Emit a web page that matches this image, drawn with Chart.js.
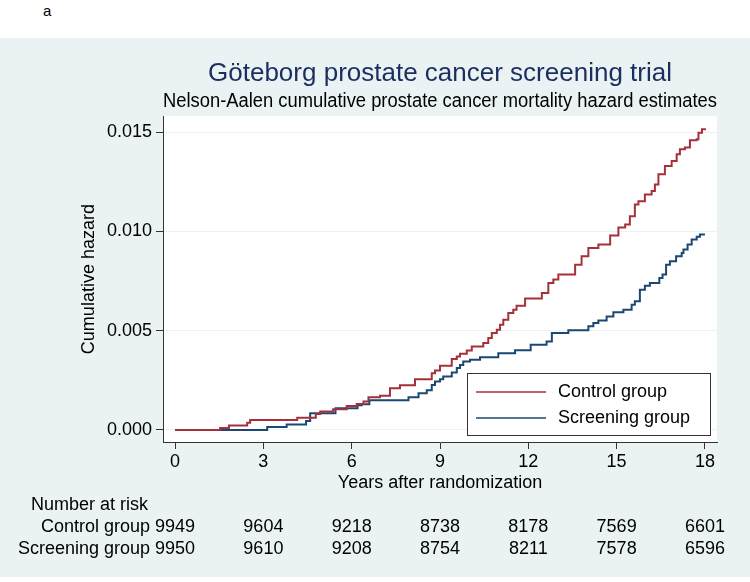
<!DOCTYPE html>
<html>
<head>
<meta charset="utf-8">
<title>Göteborg prostate cancer screening trial</title>
<script src="https://cdn.jsdelivr.net/npm/chart.js@4.4.1/dist/chart.umd.min.js"></script>
<style>
    body { margin: 0; background: #fff; }
    #wrap { position: relative; width: 750px; height: 582px; }
    #panel { position: absolute; left: 0; top: 38px; width: 750px; height: 539px; background: #eaf2f3; }
    #tag { position: absolute; left: 43px; top: 2px; font: normal 15px "Liberation Sans", Arial, sans-serif; color: #000; }
    #chart { position: absolute; left: 0; top: 0; }
</style>
</head>
<body>
<div id="wrap">
    <div id="panel"></div>
    <div id="tag">a</div>
    <canvas id="chart" width="750" height="582"></canvas>
</div>
<script>
// Nelson-Aalen estimates (step times in years, cumulative hazard after the step)
const controlTimes = [0, 1.53, 1.83, 2.45, 2.55, 4.15, 4.78, 4.93, 5.37, 5.83, 6.17, 6.4, 6.57, 6.96,
    7.3, 7.64, 8.15, 8.72, 8.83, 9.0, 9.4, 9.57, 9.68, 9.91, 10.08, 10.47, 10.64, 10.76, 10.93,
    11.04, 11.15, 11.32, 11.49, 11.6, 11.89, 12.46, 12.68, 12.85, 13.02, 13.59, 13.81, 14.04,
    14.38, 14.78, 15.06, 15.29, 15.45, 15.62, 15.74, 15.96, 16.19, 16.3, 16.42, 16.64, 16.87,
    17.04, 17.15, 17.32, 17.49, 17.72, 17.78, 17.9, 18.0];
const controlHazard = [0, 0.0001, 0.00022, 0.00037, 0.0005, 0.00062, 0.00081, 0.00093, 0.00104,
    0.00121, 0.00131, 0.00143, 0.00165, 0.00172, 0.0021, 0.00225, 0.00256, 0.00286, 0.003,
    0.00323, 0.00357, 0.0037, 0.00384, 0.004, 0.0042, 0.00438, 0.00463, 0.00488, 0.00505,
    0.0053, 0.00556, 0.0059, 0.00606, 0.00626, 0.00662, 0.0069, 0.0074, 0.00758, 0.00783,
    0.00833, 0.00875, 0.00917, 0.00934, 0.0098, 0.0102, 0.01035, 0.01077, 0.01136, 0.01153,
    0.01187, 0.01204, 0.01237, 0.01288, 0.0133, 0.01355, 0.01389, 0.01414, 0.01423, 0.0146,
    0.01465, 0.01498, 0.01515, 0.0152];

const screenTimes = [0, 3.13, 3.79, 4.45, 4.59, 5.45, 6.2, 6.34, 6.6, 7.93, 8.27, 8.55, 8.72, 8.83,
    9.0, 9.11, 9.4, 9.57, 9.68, 9.79, 10.02, 10.36, 10.98, 11.55, 12.08, 12.62, 12.8, 13.36,
    14.04, 14.21, 14.38, 14.66, 14.89, 15.23, 15.51, 15.62, 15.79, 15.96, 16.13, 16.45, 16.56,
    16.68, 16.81, 17.02, 17.21, 17.27, 17.41, 17.55, 17.72, 17.83, 18.0];
const screenHazard = [0, 0.00015, 0.00027, 0.00045, 0.00084, 0.0011, 0.00125, 0.0013, 0.0015,
    0.00165, 0.00185, 0.002, 0.00227, 0.00244, 0.00256, 0.0027, 0.0029, 0.00312, 0.00328,
    0.00345, 0.00354, 0.00367, 0.00387, 0.00402, 0.0043, 0.00446, 0.00488, 0.00502, 0.00522,
    0.00539, 0.00552, 0.00572, 0.00593, 0.00606, 0.00631, 0.00648, 0.00707, 0.00727, 0.0074,
    0.00766, 0.00783, 0.00833, 0.0085, 0.00875, 0.00892, 0.00909, 0.00934, 0.0096, 0.00973,
    0.00985, 0.00985];

const groupLabels = ['Control group', 'Screening group'];
const xTicks = [0, 3, 6, 9, 12, 15, 18];
const yTicks = [0, 0.005, 0.010, 0.015];
const controlAtRisk = [9949, 9604, 9218, 8738, 8178, 7569, 6601];
const screenAtRisk = [9950, 9610, 9208, 8754, 8211, 7578, 6596];

const MAROON = '#a5303b';
const NAVY = '#1b4873';
const AXIS = '#333333';
const FONT = '"Liberation Sans", Arial, Helvetica, sans-serif';

Chart.defaults.font.family = FONT;
Chart.defaults.color = '#000';

function toPoints(xs, ys) {
    return xs.map((x, i) => ({ x: x, y: ys[i] }));
}

// white plot region inside the grey-blue graph region
const plotBackground = {
    id: 'plotBackground',
    beforeDraw(chart) {
        const { ctx, chartArea } = chart;
        ctx.save();
        ctx.fillStyle = '#ffffff';
        ctx.fillRect(chartArea.left, chartArea.top,
            chartArea.right - chartArea.left, chartArea.bottom - chartArea.top);
        ctx.restore();
    }
};

// boxed legend in the lower right of the plot
const boxLegend = {
    id: 'boxLegend',
    afterDraw(chart) {
        const ctx = chart.ctx;
        const box = { x: 467, y: 373, w: 243, h: 62 };
        ctx.save();
        ctx.fillStyle = '#ffffff';
        ctx.fillRect(box.x, box.y, box.w, box.h);
        ctx.strokeStyle = AXIS;
        ctx.lineWidth = 1;
        ctx.strokeRect(box.x + 0.5, box.y + 0.5, box.w, box.h);
        ctx.font = '18px ' + FONT;
        ctx.textBaseline = 'middle';
        ctx.fillStyle = '#000';
        chart.data.datasets.forEach((ds, i) => {
            const y = box.y + 19 + i * 26;
            ctx.strokeStyle = ds.borderColor;
            ctx.lineWidth = 1.5;
            ctx.beginPath();
            ctx.moveTo(box.x + 9, y);
            ctx.lineTo(box.x + 79, y);
            ctx.stroke();
            ctx.fillText(ds.label, box.x + 91, y);
        });
        ctx.restore();
    }
};

// number-at-risk table under the x axis
const riskTable = {
    id: 'riskTable',
    afterDraw(chart) {
        const ctx = chart.ctx;
        const xs = chart.scales.x;
        const rows = [controlAtRisk, screenAtRisk];
        ctx.save();
        ctx.font = '18px ' + FONT;
        ctx.fillStyle = '#000';
        ctx.textBaseline = 'middle';
        ctx.textAlign = 'left';
        ctx.fillText('Number at risk', 31, 505);
        rows.forEach((row, r) => {
            const y = 527 + r * 22;
            ctx.textAlign = 'right';
            ctx.fillText(groupLabels[r], xs.getPixelForValue(xTicks[0]) - 25, y);
            ctx.textAlign = 'center';
            row.forEach((n, i) => {
                ctx.fillText(String(n), xs.getPixelForValue(xTicks[i]), y);
            });
        });
        ctx.restore();
    }
};

const ctx = document.getElementById('chart').getContext('2d');
new Chart(ctx, {
    type: 'line',
    data: {
        datasets: [{
            label: groupLabels[0],
            data: toPoints(controlTimes, controlHazard),
            borderColor: MAROON,
            borderWidth: 2,
            stepped: true,
            pointRadius: 0,
            fill: false
        }, {
            label: groupLabels[1],
            data: toPoints(screenTimes, screenHazard),
            borderColor: NAVY,
            borderWidth: 2,
            stepped: true,
            pointRadius: 0,
            fill: false
        }]
    },
    options: {
        responsive: false,
        animation: false,
        layout: { padding: { top: 38, right: 33, bottom: 0, left: 0 } },
        plugins: {
            legend: { display: false },
            tooltip: { enabled: false },
            title: {
                display: true,
                fullSize: false,
                text: 'Göteborg prostate cancer screening trial',
                color: '#1b2f5f',
                font: { size: 26, weight: 'normal' },
                padding: { top: 20, bottom: 0 }
            },
            subtitle: {
                display: true,
                fullSize: false,
                text: 'Nelson-Aalen cumulative prostate cancer mortality hazard estimates',
                color: '#000',
                font: { size: 20, weight: 'normal' },
                padding: { top: 0, bottom: 3 }
            }
        },
        scales: {
            x: {
                type: 'linear',
                min: -0.41,
                max: 18.41,
                afterBuildTicks: scale => { scale.ticks = xTicks.map(v => ({ value: v })); },
                afterFit: scale => { scale.height = 140; },
                grid: { drawOnChartArea: false, tickLength: 7, tickColor: AXIS },
                border: { display: true, color: AXIS, width: 1 },
                ticks: { font: { size: 18 }, padding: 2, maxRotation: 0 },
                title: {
                    display: true,
                    text: 'Years after randomization',
                    font: { size: 18 },
                    padding: { top: 0, bottom: 88 }
                }
            },
            y: {
                min: -0.000606,
                max: 0.01581,
                afterBuildTicks: scale => { scale.ticks = yTicks.map(v => ({ value: v })); },
                afterFit: scale => { scale.width = 163; },
                grid: { color: '#eaf2f3', lineWidth: 1, tickLength: 7, tickColor: AXIS },
                border: { display: true, color: AXIS, width: 1 },
                ticks: {
                    font: { size: 18 },
                    padding: 4,
                    callback: v => v.toFixed(3)
                },
                title: {
                    display: true,
                    text: 'Cumulative hazard',
                    font: { size: 18 },
                    padding: { top: 78, bottom: 0 }
                }
            }
        }
    },
    plugins: [plotBackground, boxLegend, riskTable]
});
</script>
</body>
</html>
